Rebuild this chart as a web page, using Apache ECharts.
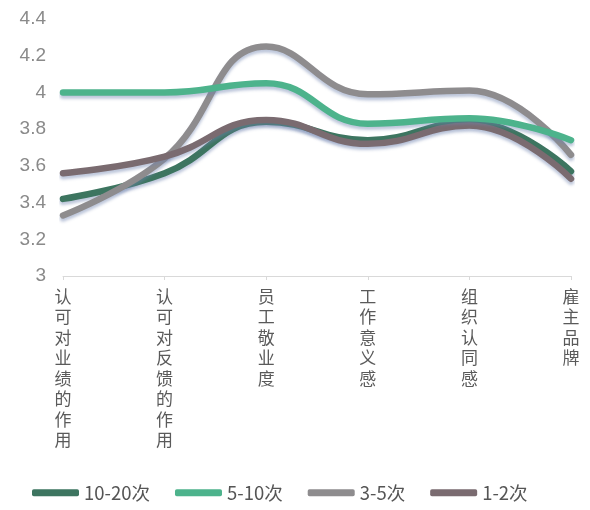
<!DOCTYPE html>
<html>
<head>
<meta charset="utf-8">
<script src="https://cdn.jsdelivr.net/npm/echarts@6/dist/echarts.min.js"></script>
<style>
  html, body { margin: 0; padding: 0; background: #fff; }
  #chart { width: 590px; height: 510px; }
</style>
</head>
<body>
<div id="chart"></div>
<script>
// Survey dimensions on the x axis
const categories = ['认可对业绩的作用', '认可对反馈的作用', '员工敬业度', '工作意义感', '组织认同感', '雇主品牌'];

// Average scores per group, by recognition frequency
const seriesNames = ['10-20次', '5-10次', '3-5次', '1-2次'];
const freq10to20 = [3.42, 3.56, 3.84, 3.74, 3.84, 3.57];
const freq5to10 = [4.00, 4.00, 4.05, 3.83, 3.86, 3.74];
const freq3to5 = [3.33, 3.64, 4.25, 3.99, 4.01, 3.66];
const freq1to2 = [3.56, 3.65, 3.85, 3.72, 3.82, 3.53];

const yTicks = [3, 3.2, 3.4, 3.6, 3.8, 4, 4.2, 4.4];

const colors = ['#3d7560', '#4db38c', '#8e8c8e', '#7a6b70'];
const values = [freq10to20, freq5to10, freq3to5, freq1to2];

const chart = echarts.init(document.getElementById('chart'));

chart.setOption({
  animation: false,
  grid: { left: 63, right: 19, top: 19, bottom: 234 },
  legend: {
    bottom: 3,
    left: 27,
    icon: 'roundRect',
    itemWidth: 47,
    itemHeight: 7,
    itemGap: 25,
    textStyle: { fontSize: 18.5, color: '#555', fontFamily: 'Noto Sans CJK SC' },
    data: seriesNames
  },
  xAxis: {
    type: 'category',
    boundaryGap: false,
    data: categories,
    axisLine: { lineStyle: { color: '#d9d9d9', width: 1 } },
    axisTick: { show: true, length: 4, lineStyle: { color: '#d9d9d9' } },
    axisLabel: {
      interval: 0,
      margin: 10,
      color: '#5a5a5a',
      fontSize: 17,
      lineHeight: 20.5,
      fontFamily: 'Noto Sans CJK SC',
      verticalAlign: 'top',
      formatter: v => v.split('').join('\n')
    },
    splitLine: { show: false }
  },
  yAxis: {
    type: 'value',
    min: yTicks[0],
    max: yTicks[yTicks.length - 1],
    interval: 0.2,
    axisLine: { show: false },
    axisTick: { show: false },
    splitLine: { show: false },
    axisLabel: {
      margin: 17,
      color: '#8a8a8a',
      fontSize: 19,
      fontFamily: 'Liberation Sans',
      formatter: v => String(Math.round(v * 10) / 10)
    }
  },
  series: seriesNames.map((name, i) => ({
    name,
    type: 'line',
    smooth: 0.45,
    symbol: 'none',
    data: values[i],
    z: i === 1 ? 3 : 2,
    itemStyle: { color: colors[i] },
    lineStyle: {
      color: colors[i],
      width: 6.5,
      cap: 'round',
      shadowColor: 'rgba(110,130,175,0.45)',
      shadowBlur: 3,
      shadowOffsetY: 3
    }
  }))
});
</script>
</body>
</html>
